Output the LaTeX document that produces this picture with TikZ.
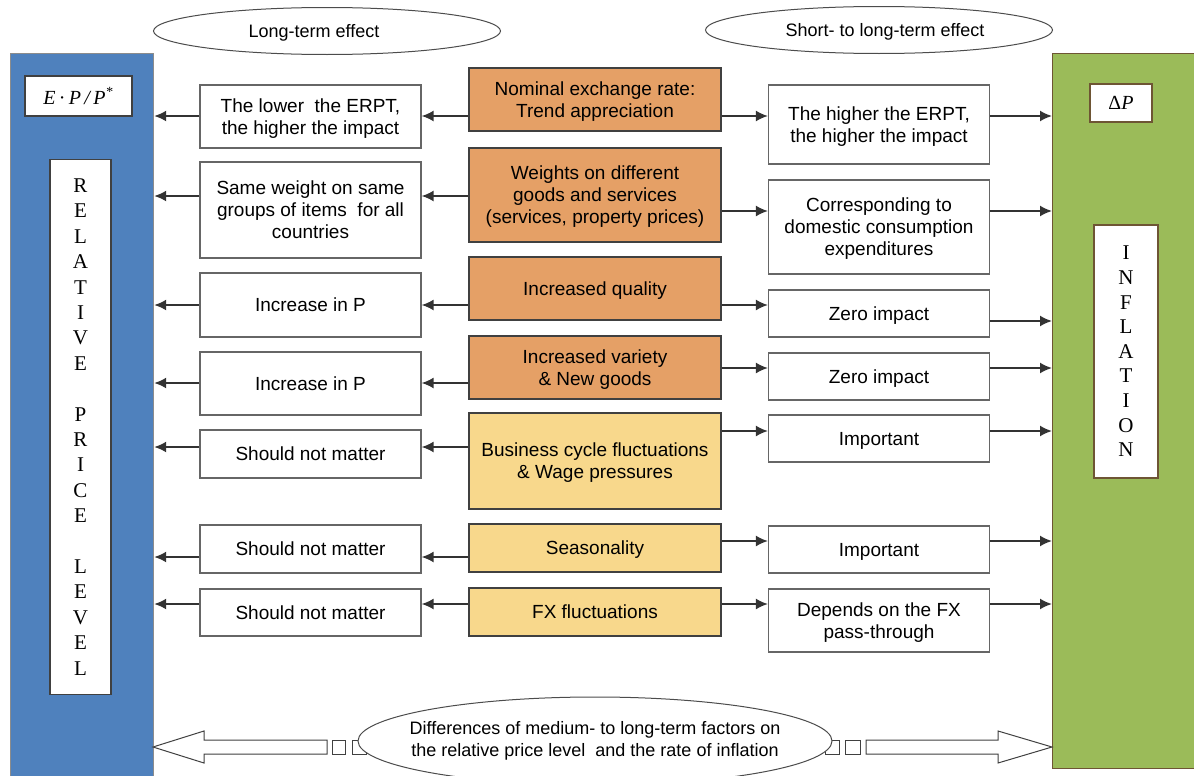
\documentclass[tikz,border=0pt]{standalone}
\usepackage{fontspec}
\setmainfont{Liberation Sans}
\newfontfamily\timesf{Liberation Serif}
\usetikzlibrary{arrows.meta,shapes.geometric}
\definecolor{cblue}{HTML}{4F81BD}
\definecolor{cgreen}{HTML}{9BBB59}
\definecolor{corange}{HTML}{E5A066}
\definecolor{cyellow}{HTML}{F8D88C}
\definecolor{cline}{HTML}{404040}
\definecolor{cbrown}{HTML}{6E5534}
\tikzset{
  cause/.style={rectangle, draw=cline, line width=0.6pt, minimum width=126pt, text depth=0pt,
                align=center, inner sep=0pt, font=\fontsize{9.5}{11}\selectfont},
  strong/.style={cause, fill=corange},
  weak/.style={cause, fill=cyellow},
  effect/.style={rectangle, draw=black!60, line width=0.6pt, fill=white, minimum width=110.5pt,
                 text depth=0pt, align=center, inner sep=0pt, font=\fontsize{9.5}{11}\selectfont},
  tag/.style={rectangle, draw=cline, line width=0.6pt, fill=white, align=center, inner sep=0pt,
              font=\timesf\fontsize{10}{12}\selectfont},
  oval/.style={ellipse, draw=black!70, line width=0.5pt, fill=white, inner sep=0pt,
               align=center, font=\fontsize{9}{11}\selectfont},
  flow/.style={-{Latex[length=6pt,width=5.5pt]}, line width=0.9pt, draw=black!80},
  hollow/.style={draw=black!75, fill=white, line width=0.5pt}
}

\begin{document}
\begin{tikzpicture}[x=0.5pt, y=-0.5pt]
\useasboundingbox (0,0) rectangle (1194,776);
\clip (0,0) rectangle (1194,776);
% side bars
\node[rectangle, fill=cblue, draw=black!45, line width=0.6pt, minimum width=71.5pt, minimum height=368.5pt,
      anchor=north west, inner sep=0pt] (rpl) at (10,53) {};
\node[rectangle, fill=cgreen, draw=cbrown, line width=0.6pt, minimum width=75pt, minimum height=357.5pt,
      anchor=north west, inner sep=0pt] (infl) at (1052,53) {};
\node[tag, minimum width=53.5pt, minimum height=20pt] (epp) at (78.5,96)
  {\itshape E\,{\upshape·}\,P\,/\,P\textsuperscript{*}};
\node[tag, minimum width=31pt, minimum height=19pt, draw=cbrown] (dp) at (1121,103) {Δ\itshape P};
\node[tag, minimum width=30.5pt, minimum height=267.5pt, font=\timesf\fontsize{10.5}{12.7}\selectfont]
  (rplname) at (80.5,427) {R\\E\\L\\A\\T\\I\\V\\E\\[12.7pt]P\\R\\I\\C\\E\\[12.7pt]L\\E\\V\\E\\L};
\node[tag, minimum width=32pt, minimum height=126.5pt, draw=cbrown, font=\timesf\fontsize{10.5}{12.3}\selectfont]
  (inflname) at (1126,351.5) {I\\N\\F\\L\\A\\T\\I\\O\\N};

% factors
\node[strong, minimum height=31.5pt] (c1) at (595,99.5) {Nominal exchange rate:\\Trend appreciation};
\node[strong, minimum height=47pt] (c2) at (595,195) {Weights on different\\goods and services\\(services, property prices)};
\node[strong, minimum height=31.5pt] (c3) at (595,288.5) {Increased quality};
\node[strong, minimum height=31.5pt] (c4) at (595,367.5) {Increased variety\\\& New goods};
\node[weak, minimum height=48pt] (c5) at (595,461) {Business cycle fluctuations\\\& Wage pressures};
\node[weak, minimum height=24pt] (c6) at (595,548) {Seasonality};
\node[weak, minimum height=24pt] (c7) at (595,612) {FX fluctuations};

% long-term column
\node[effect, minimum height=31.5pt] (l1) at (310.5,116.5) {The lower\ \ the ERPT,\\the higher the impact};
\node[effect, minimum height=48pt] (l2) at (310.5,210) {Same weight on same\\groups of items\ \ for all\\countries};
\node[effect, minimum height=32pt] (l3) at (310.5,305) {Increase in P};
\node[effect, minimum height=31.5pt] (l4) at (310.5,383.5) {Increase in P};
\node[effect, minimum height=24pt] (l5) at (310.5,454) {Should not matter};
\node[effect, minimum height=24pt] (l6) at (310.5,549) {Should not matter};
\node[effect, minimum height=23.5pt] (l7) at (310.5,612.5) {Should not matter};

% short-term column
\node[effect, minimum height=39.5pt] (r1) at (879,124.5) {The higher the ERPT,\\the higher the impact};
\node[effect, minimum height=47pt] (r2) at (879,227) {Corresponding to\\domestic consumption\\expenditures};
\node[effect, minimum height=23.5pt] (r3) at (879,313.5) {Zero impact};
\node[effect, minimum height=23.5pt] (r4) at (879,376.5) {Zero impact};
\node[effect, minimum height=23.5pt] (r5) at (879,438.5) {Important};
\node[effect, minimum height=23.5pt] (r6) at (879,549.5) {Important};
\node[effect, minimum height=31.5pt] (r7) at (879,620.5) {Depends on the FX\\pass-through};

% arrows to the left
\draw[flow] (c1.west |- 0,116) -- (l1.east |- 0,116); \draw[flow] (l1.west |- 0,116) -- (rpl.east |- 0,116);
\draw[flow] (c2.west |- 0,196) -- (l2.east |- 0,196); \draw[flow] (l2.west |- 0,196) -- (rpl.east |- 0,196);
\draw[flow] (c3.west |- 0,305) -- (l3.east |- 0,305); \draw[flow] (l3.west |- 0,305) -- (rpl.east |- 0,305);
\draw[flow] (c4.west |- 0,383) -- (l4.east |- 0,383); \draw[flow] (l4.west |- 0,383) -- (rpl.east |- 0,383);
\draw[flow] (c5.west |- 0,447) -- (l5.east |- 0,447); \draw[flow] (l5.west |- 0,447) -- (rpl.east |- 0,447);
\draw[flow] (c6.west |- 0,557) -- (l6.east |- 0,557); \draw[flow] (l6.west |- 0,557) -- (rpl.east |- 0,557);
\draw[flow] (c7.west |- 0,604) -- (l7.east |- 0,604); \draw[flow] (l7.west |- 0,604) -- (rpl.east |- 0,604);
% arrows to the right
\draw[flow] (c1.east |- 0,116) -- (r1.west |- 0,116); \draw[flow] (r1.east |- 0,116) -- (infl.west |- 0,116);
\draw[flow] (c2.east |- 0,211) -- (r2.west |- 0,211); \draw[flow] (r2.east |- 0,211) -- (infl.west |- 0,211);
\draw[flow] (c3.east |- 0,305) -- (r3.west |- 0,305); \draw[flow] (r3.east |- 0,321) -- (infl.west |- 0,321);
\draw[flow] (c4.east |- 0,368) -- (r4.west |- 0,368); \draw[flow] (r4.east |- 0,368) -- (infl.west |- 0,368);
\draw[flow] (c5.east |- 0,431) -- (r5.west |- 0,431); \draw[flow] (r5.east |- 0,431) -- (infl.west |- 0,431);
\draw[flow] (c6.east |- 0,541) -- (r6.west |- 0,541); \draw[flow] (r6.east |- 0,541) -- (infl.west |- 0,541);
\draw[flow] (c7.east |- 0,604) -- (r7.west |- 0,604); \draw[flow] (r7.east |- 0,604) -- (infl.west |- 0,604);

% block arrows at the bottom
\draw[hollow] (153,747) -- (204,731) -- (204,740) -- (327,740) -- (327,754) -- (204,754) -- (204,763) -- cycle;
\draw[hollow] (332,740) rectangle (345,754); \draw[hollow] (352,740) rectangle (366,754);
\draw[hollow] (825,740) rectangle (839,754); \draw[hollow] (845,740) rectangle (860,754);
\draw[hollow] (1052,747) -- (998,731) -- (998,740) -- (866,740) -- (866,754) -- (998,754) -- (998,763) -- cycle;
\node[oval, minimum width=237pt, minimum height=44pt, inner xsep=-12pt] (diff) at (595,741)
  {Differences of medium- to long-term factors on\\the relative price level\ \ and the rate of inflation};

% headings
\node[oval, minimum width=173.5pt, minimum height=23.5pt, text depth=0pt] (lt) at (327,31) {\hspace*{-13pt}Long-term effect};
\node[oval, minimum width=173.5pt, minimum height=23.5pt, text depth=0pt] (st) at (879,30) {\hspace*{6pt}Short- to long-term effect};
\end{tikzpicture}
\end{document}
